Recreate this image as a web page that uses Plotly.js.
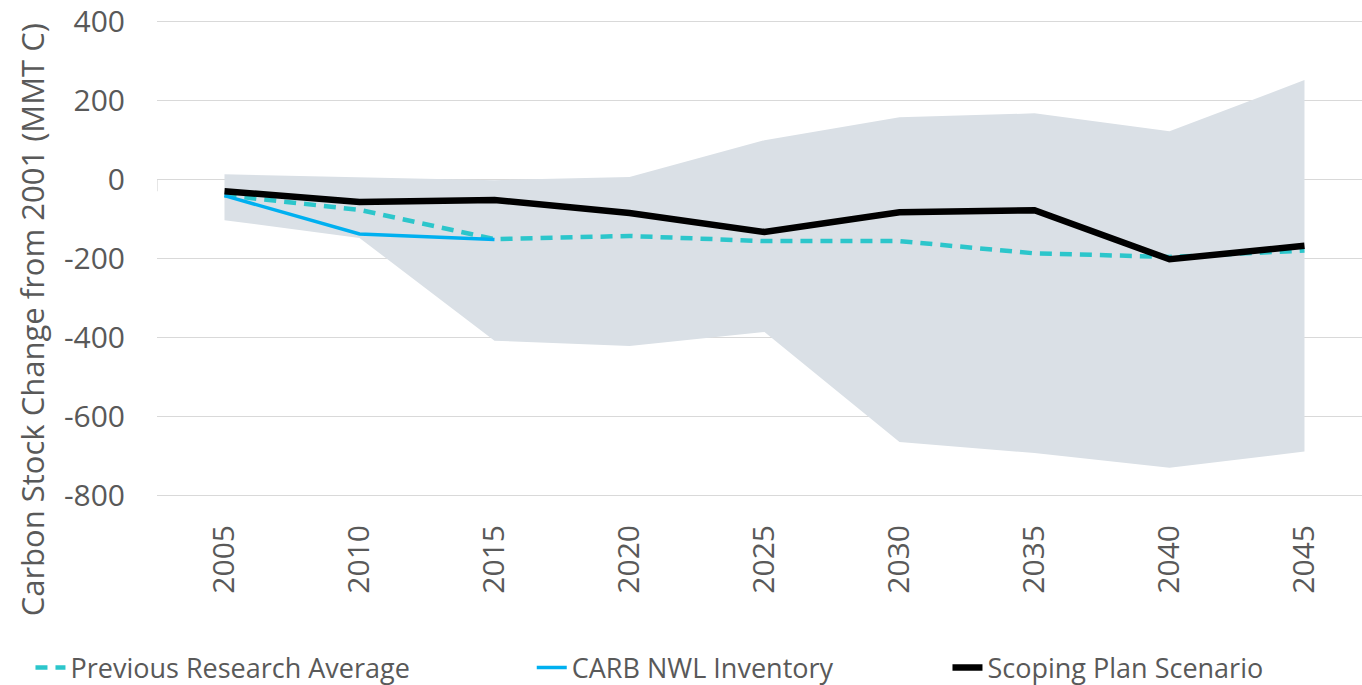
<!DOCTYPE html>
<html>
<head>
<meta charset="utf-8">
<script src="https://cdn.plot.ly/plotly-3.0.1.min.js"></script>
<style>
html,body{margin:0;padding:0;background:#fff;overflow:hidden;}
#chart{width:1362px;height:685px;}
</style>
</head>
<body>
<div id="chart"></div>
<script>
const years = ['2005','2010','2015','2020','2025','2030','2035','2040','2045'];
const prevResearchAvg = [-40,-77,-151,-143,-156,-156,-187,-196,-180];
const carbNwl = [-41,-138,-152,null,null,null,null,null,null];
const scopingPlan = [-30,-57,-52,-85,-133,-83,-78,-202,-168];
const rangeUpper = [13,5,-2,6,99,157,167,122,251];
const rangeLower = [-103,-148,-408,-421,-386,-664,-692,-729,-688];
const yTicks = [400,200,0,-200,-400,-600,-800];

const txt = '#595959';
const grid = '#D9D9D9';
const font = 'Open Sans, sans-serif';

const traces = [
  {x: years, y: rangeLower, type:'scatter', mode:'lines', line:{width:0, color:'rgba(0,0,0,0)'}, showlegend:false, hoverinfo:'skip'},
  {x: years, y: rangeUpper, type:'scatter', mode:'lines', line:{width:0, color:'rgba(0,0,0,0)'}, fill:'tonexty', fillcolor:'#DAE0E6', showlegend:false, hoverinfo:'skip'},
  {x: years, y: prevResearchAvg, type:'scatter', mode:'lines', name:'Previous Research Average', line:{color:'#2CC6CB', width:4.5, dash:'12px,8px'}, legend:'legend'},
  {x: years, y: carbNwl, type:'scatter', mode:'lines', name:'CARB NWL Inventory', line:{color:'#00B0F0', width:3.5}, legend:'legend2'},
  {x: years, y: scopingPlan, type:'scatter', mode:'lines', name:'Scoping Plan Scenario', line:{color:'#000000', width:6.5}, legend:'legend3'}
];

const shapes = [];
for (let i = 0; i <= years.length; i++) {
  shapes.push({type:'line', xref:'x', yref:'y', x0:i-0.5, x1:i-0.5, y0:0, y1:-30, line:{color:grid, width:1.3}, layer:'below'});
}

const legendBase = {orientation:'h', yanchor:'middle', xanchor:'left', yref:'container', y:0.0248, bgcolor:'rgba(0,0,0,0)', font:{family:font, size:27, color:txt}};

const layout = {
  width:1362, height:685,
  margin:{l:157, r:0, t:19.8, b:187.8},
  paper_bgcolor:'#fff', plot_bgcolor:'#fff',
  font:{family:font, color:txt},
  xaxis:{type:'category', range:[-0.5, 8.426], showgrid:false, zeroline:false, showline:false, automargin:false,
         tickangle:-90, ticks:'', ticklabelstandoff:21, ticklabeloverflow:'allow', tickfont:{family:font, size:30, color:txt}},
  yaxis:{range:[-803,403], tickvals:yTicks, ticktext:yTicks.map(String), showgrid:true, gridcolor:grid, gridwidth:1.3,
         zeroline:true, zerolinecolor:grid, zerolinewidth:1.3, showline:false, ticks:'', ticklabelstandoff:31, automargin:false,
         ticklabeloverflow:'allow', tickfont:{family:font, size:30, color:txt}},
  showlegend:true,
  legend: Object.assign({}, legendBase, {x:-0.105}),
  legend2: Object.assign({}, legendBase, {x:0.311}),
  legend3: Object.assign({}, legendBase, {x:0.656}),
  shapes: shapes,
  annotations:[{text:'Carbon Stock Change from 2001 (MMT C)', xref:'paper', yref:'paper', x:-0.1037, y:0.3705,
    xanchor:'center', yanchor:'middle', textangle:-90, showarrow:false, font:{family:font, size:31, color:txt}}]
};

Plotly.newPlot('chart', traces, layout, {displayModeBar:false, staticPlot:true});
</script>
</body>
</html>
